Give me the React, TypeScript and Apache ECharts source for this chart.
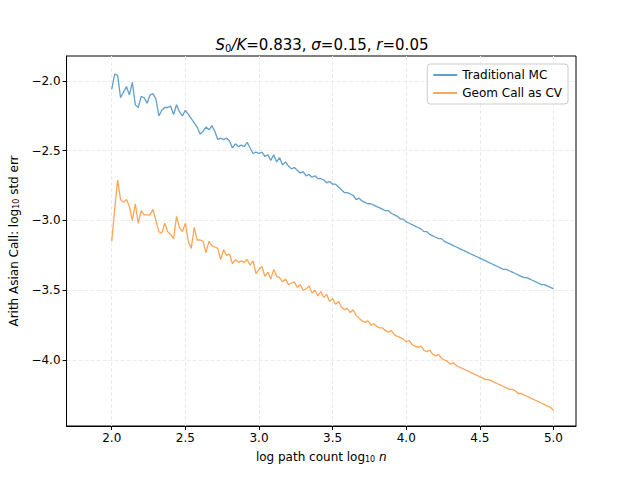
import React, { useEffect, useRef } from "react";
import * as echarts from "echarts";

// log10 path count runs 2.00 .. 5.00 in steps of 0.02
const traditionalMC = [
  -2.06, -1.95, -1.96, -2.12, -2.08, -2.04, -2.10, -2.01, -2.17, -2.19, -2.11, -2.12, -2.16, -2.10, -2.09, -2.13, -2.25, -2.21, -2.19, -2.19, -2.18, -2.24, -2.17, -2.22, -2.25, -2.21,
  -2.24, -2.27, -2.30, -2.33, -2.38, -2.36, -2.33, -2.35, -2.32, -2.36, -2.42, -2.41, -2.42, -2.41, -2.43, -2.48, -2.45, -2.47, -2.46, -2.47, -2.44, -2.48, -2.52, -2.51, -2.52,
  -2.51, -2.54, -2.53, -2.57, -2.53, -2.58, -2.55, -2.60, -2.58, -2.61, -2.63, -2.62, -2.64, -2.66, -2.65, -2.68, -2.67, -2.69, -2.68, -2.70, -2.70, -2.71, -2.73, -2.72, -2.74,
  -2.74, -2.76, -2.78, -2.80, -2.80, -2.81, -2.82, -2.85, -2.84, -2.86, -2.87, -2.88, -2.88, -2.89, -2.90, -2.91, -2.92, -2.93, -2.93, -2.95, -2.96, -2.97, -2.99, -2.99, -3.01,
  -3.02, -3.03, -3.04, -3.05, -3.06, -3.08, -3.08, -3.10, -3.11, -3.12, -3.13, -3.13, -3.15, -3.16, -3.17, -3.18, -3.19, -3.20, -3.21, -3.22, -3.23, -3.24, -3.25, -3.26, -3.27,
  -3.28, -3.29, -3.30, -3.31, -3.32, -3.33, -3.34, -3.35, -3.35, -3.36, -3.37, -3.38, -3.39, -3.40, -3.41, -3.41, -3.42, -3.43, -3.44, -3.45, -3.46, -3.46, -3.47, -3.48, -3.49,
];
const geomCallCV = [
  -3.15, -2.92, -2.71, -2.85, -2.87, -2.85, -2.90, -3.00, -2.88, -3.02, -2.93, -2.96, -2.96, -2.96, -2.92, -3.00, -3.08, -3.09, -3.02, -3.08, -3.10, -3.13, -2.97, -3.05, -3.08, -3.02,
  -3.15, -3.20, -3.05, -3.14, -3.14, -3.15, -3.23, -3.15, -3.18, -3.19, -3.20, -3.28, -3.21, -3.25, -3.24, -3.31, -3.28, -3.30, -3.29, -3.30, -3.28, -3.32, -3.29, -3.38, -3.35,
  -3.33, -3.40, -3.37, -3.42, -3.35, -3.40, -3.41, -3.44, -3.42, -3.46, -3.45, -3.44, -3.48, -3.46, -3.50, -3.49, -3.47, -3.52, -3.50, -3.54, -3.51, -3.55, -3.53, -3.58, -3.56,
  -3.60, -3.58, -3.62, -3.64, -3.63, -3.66, -3.64, -3.68, -3.70, -3.72, -3.73, -3.72, -3.75, -3.74, -3.76, -3.77, -3.77, -3.79, -3.80, -3.79, -3.82, -3.83, -3.84, -3.85, -3.87,
  -3.86, -3.89, -3.90, -3.91, -3.90, -3.93, -3.94, -3.93, -3.96, -3.97, -3.96, -3.99, -4.00, -4.01, -4.03, -4.02, -4.04, -4.05, -4.06, -4.07, -4.08, -4.09, -4.10, -4.11, -4.12,
  -4.13, -4.14, -4.14, -4.15, -4.16, -4.17, -4.18, -4.19, -4.20, -4.21, -4.21, -4.22, -4.24, -4.24, -4.25, -4.26, -4.27, -4.28, -4.29, -4.30, -4.31, -4.32, -4.33, -4.34, -4.36,
];
const xTicks = [2.0, 2.5, 3.0, 3.5, 4.0, 4.5, 5.0];
const yTicks = [-4.0, -3.5, -3.0, -2.5, -2.0];

const FONT = "DejaVu Sans";
const fmt = (v: number) => v.toFixed(1).replace("-", "\u2212");
const toPairs = (ys: number[]) => ys.map((y, i) => [+(2 + i * 0.02).toFixed(2), y]);

const App = () => {
  const chartRef = useRef<HTMLDivElement>(null);

  useEffect(() => {
    document.body.style.margin = "0";
    const dom = chartRef.current;
    if (!dom) return;
    const chart = echarts.init(dom, null, { renderer: "svg" });
    const axisCommon = {
      type: "value",
      axisLine: { show: true, onZero: false, lineStyle: { color: "#000", width: 1 } },
      axisTick: { show: true, length: 4, lineStyle: { color: "#000" } },
      axisLabel: { color: "#000", fontSize: 12, fontFamily: FONT, formatter: fmt },
      splitLine: { show: true, lineStyle: { color: "#ececec", type: "dashed", width: 1 } },
    };
    chart.setOption({
      animation: false,
      textStyle: { fontFamily: FONT },
      title: {
        text: "{i|S}{sub|0}{i|/K}=0.833, {i|σ}=0.15, {i|r}=0.05",
        left: 317,
        top: 32,
        textAlign: "center",
        textStyle: {
          fontSize: 15,
          fontWeight: "normal",
          color: "#000",
          rich: {
            i: { fontStyle: "italic", fontSize: 15, fontFamily: FONT },
            sub: { fontSize: 10, verticalAlign: "bottom", padding: [6, 0, 0, 0], fontFamily: FONT },
          },
        },
      },
      legend: {
        right: 72,
        top: 64,
        orient: "vertical",
        itemWidth: 24,
        itemHeight: 2,
        itemGap: 6,
        padding: [5, 6, 5, 6],
        borderColor: "#cccccc",
        borderWidth: 1,
        borderRadius: 3,
        backgroundColor: "rgba(255,255,255,0.8)",
        textStyle: { fontSize: 12, color: "#000", fontFamily: FONT },
        icon: "rect",
      },
      grid: { left: 58, right: 64, top: 56, bottom: 54, show: true, borderColor: "#000", borderWidth: 1, backgroundColor: "transparent" },
      xAxis: {
        ...axisCommon,
        min: 1.693,
        max: 5.153,
        axisLabel: { ...axisCommon.axisLabel, customValues: xTicks, margin: 6 },
        axisTick: { ...axisCommon.axisTick, customValues: xTicks },
        name: "log path count log{s|10} {i|n}",
        nameLocation: "middle",
        nameGap: 24,
        nameTextStyle: {
          fontSize: 12,
          color: "#000",
          rich: {
            s: { fontSize: 8, verticalAlign: "bottom", padding: [5, 0, 0, 0] },
            i: { fontStyle: "italic", fontSize: 12 },
          },
        },
      },
      yAxis: {
        ...axisCommon,
        min: -4.473,
        max: -1.821,
        axisLabel: { ...axisCommon.axisLabel, customValues: yTicks, margin: 6 },
        axisTick: { ...axisCommon.axisTick, customValues: yTicks },
        name: "Arith Asian Call: log{s|10} std err",
        nameLocation: "middle",
        nameGap: 38,
        nameTextStyle: {
          fontSize: 12,
          color: "#000",
          rich: { s: { fontSize: 8, verticalAlign: "bottom", padding: [5, 0, 0, 0] } },
        },
      },
      series: [
        {
          name: "Traditional MC",
          type: "line",
          data: toPairs(traditionalMC),
          showSymbol: false,
          color: "rgba(31,119,180,0.7)",
          lineStyle: { width: 1.3 },
        },
        {
          name: "Geom Call as CV",
          type: "line",
          data: toPairs(geomCallCV),
          showSymbol: false,
          color: "rgba(255,127,14,0.7)",
          lineStyle: { width: 1.3 },
        },
      ],
    });
    return () => chart.dispose();
  }, []);

  return <div ref={chartRef} style={{ width: 640, height: 480 }} />;
};

export default App;
